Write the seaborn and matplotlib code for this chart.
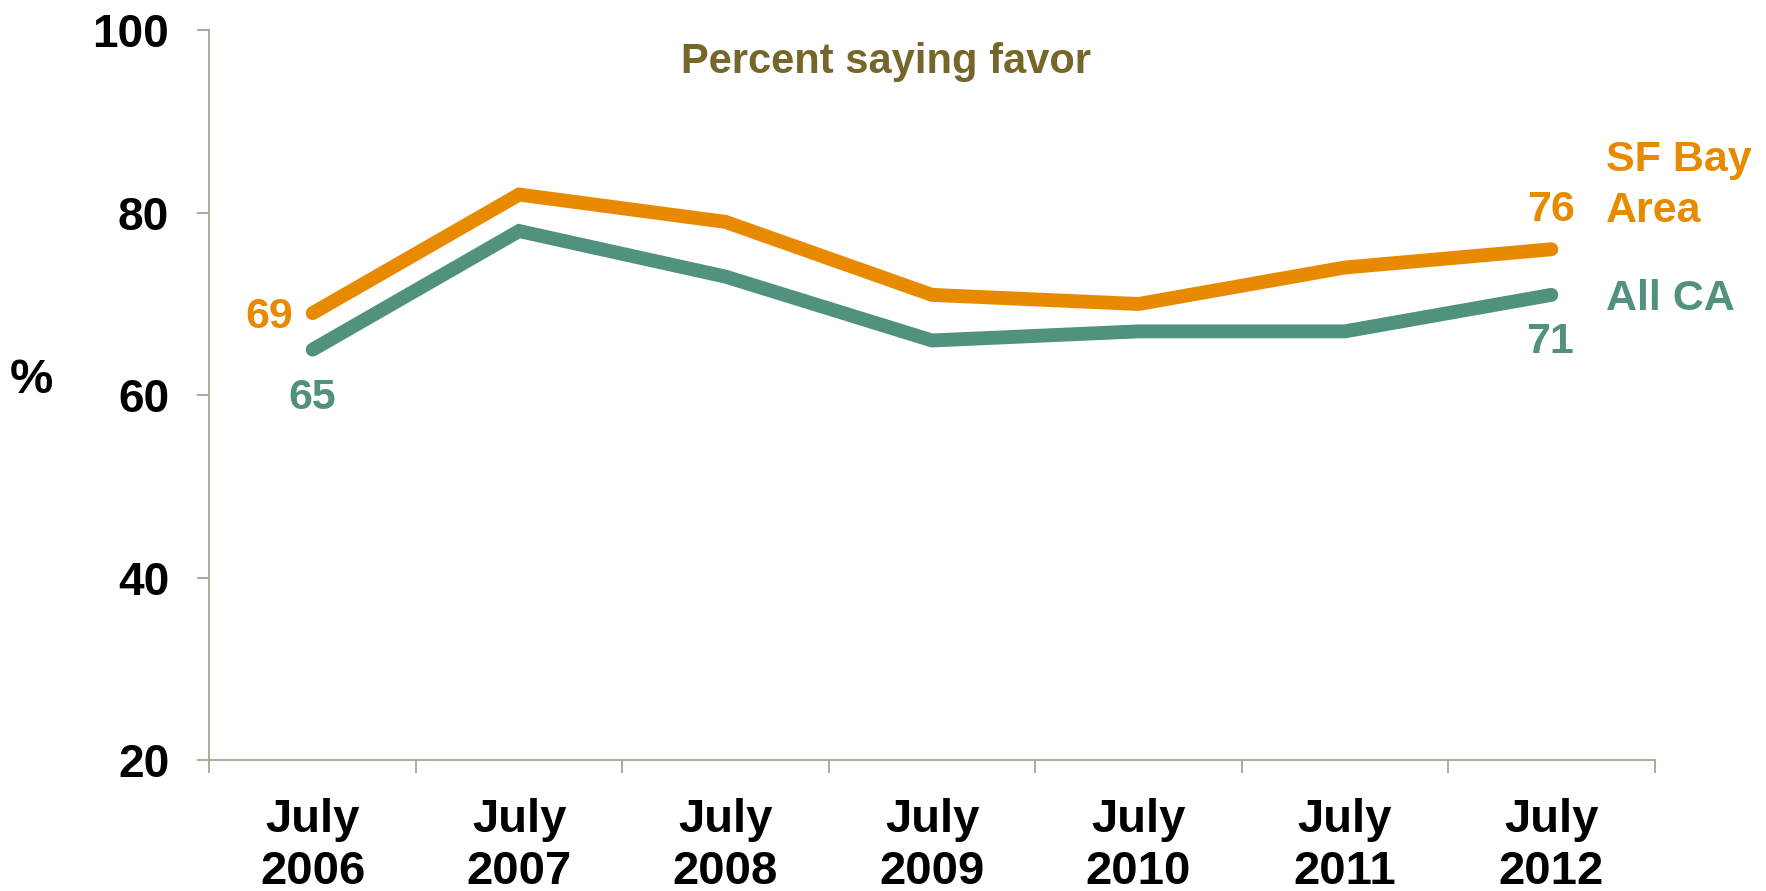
import numpy as np
import pandas as pd
import matplotlib
matplotlib.use("Agg")
import matplotlib.pyplot as plt
import seaborn as sns

# Survey waves and share of respondents who favor (percent)
periods = ["July\n2006", "July\n2007", "July\n2008", "July\n2009",
           "July\n2010", "July\n2011", "July\n2012"]
sf_bay = [69, 82, 79, 71, 70, 74, 76]
all_ca = [65, 78, 73, 66, 67, 67, 71]
series_names = ["SF Bay\nArea", "All CA"]
y_ticks = [20, 40, 60, 80, 100]

ORANGE = "#E88A00"
TEAL = "#50917F"
OLIVE = "#76662A"
AXIS = "#A8A291"

sns.set_theme(style="white")
plt.rcParams["font.family"] = ["Liberation Sans", "DejaVu Sans"]

pos = np.arange(len(periods))
df = pd.DataFrame({
    "pos": np.concatenate([pos, pos]),
    "value": sf_bay + all_ca,
    "series": [series_names[0]] * len(pos) + [series_names[1]] * len(pos),
})

fig = plt.figure(figsize=(17.66, 8.91), dpi=100)
ax = fig.add_axes([0.1186, 0.147, 0.8183, 0.8189])

sns.lineplot(data=df, x="pos", y="value", hue="series",
             palette={series_names[0]: ORANGE, series_names[1]: TEAL},
             linewidth=10, legend=False, ax=ax, sort=False)
for ln in ax.get_lines():
    ln.set_solid_capstyle("round")
    ln.set_solid_joinstyle("miter")

ax.set_xlim(-0.5, len(periods) - 0.5)
ax.set_ylim(20, 100)
ax.set_yticks(y_ticks)
ax.set_yticklabels([str(v) for v in y_ticks])

# Category labels centred between boundary tick marks
ax.set_xticks(pos)
ax.set_xticklabels(periods, linespacing=1.24)
ax.set_xticks(np.arange(-0.5, len(periods)), minor=True)
ax.tick_params(axis="x", which="major", length=0, pad=27)
ax.tick_params(axis="x", which="minor", length=9.5, width=1.3,
               color=AXIS, direction="out")
ax.tick_params(axis="y", which="major", length=9, width=1.3,
               color=AXIS, direction="out", pad=20)
ax.xaxis.set_tick_params(which="minor", bottom=True)
ax.yaxis.set_tick_params(left=True)

for lab in ax.get_yticklabels():
    lab.set_fontweight("bold")
    lab.set_fontsize(33)
    lab.set_color("black")
for lab in ax.get_xticklabels():
    lab.set_fontweight("bold")
    lab.set_fontsize(34)
    lab.set_color("black")

for side in ["top", "right"]:
    ax.spines[side].set_visible(False)
for side in ["left", "bottom"]:
    ax.spines[side].set_color(AXIS)
    ax.spines[side].set_linewidth(1.3)

ax.set_xlabel("")
ax.set_ylabel("")
fig.text(0.0175, 0.573, "%", fontsize=35, fontweight="bold",
         ha="center", va="center", color="black")

ax.text(0.468, 0.957, "Percent saying favor", transform=ax.transAxes,
        fontsize=30, fontweight="bold", color=OLIVE, ha="center", va="center")

lab_kw = dict(fontsize=31, fontweight="bold", textcoords="offset points")
last = len(periods) - 1
ax.annotate(str(sf_bay[0]), (0, sf_bay[0]), xytext=(-14, -3),
            ha="right", va="center", color=ORANGE, **lab_kw)
ax.annotate(str(all_ca[0]), (0, all_ca[0]), xytext=(0, -35),
            ha="center", va="center", color=TEAL, **lab_kw)
ax.annotate(str(sf_bay[last]), (last, sf_bay[last]), xytext=(0, 28),
            ha="center", va="center", color=ORANGE, **lab_kw)
ax.annotate(str(all_ca[last]), (last, all_ca[last]), xytext=(-1, -34),
            ha="center", va="center", color=TEAL, **lab_kw)

ax.annotate(series_names[0], (last, 83.0), xytext=(39, 0),
            ha="left", va="center", color=ORANGE, linespacing=1.34, **lab_kw)
ax.annotate(series_names[1], (last, 70.5), xytext=(39, 0),
            ha="left", va="center", color=TEAL, **lab_kw)

fig.savefig("out.png", dpi=100, facecolor="white")
